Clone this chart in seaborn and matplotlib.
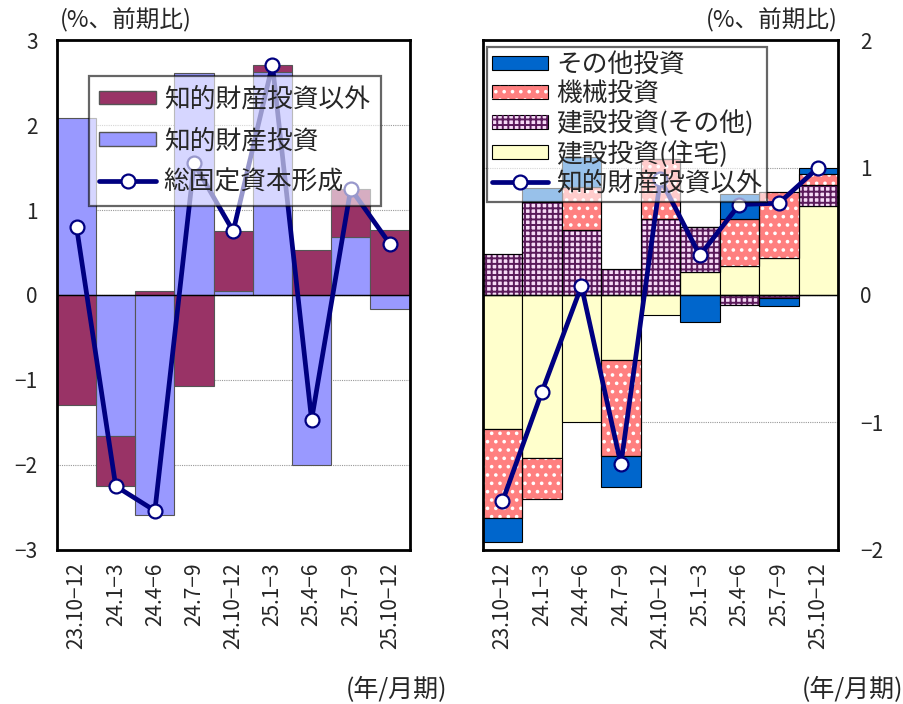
import numpy as np
import seaborn as sns
import matplotlib
matplotlib.use("Agg")
import matplotlib.pyplot as plt
from matplotlib.patches import Patch
from matplotlib.lines import Line2D
from matplotlib.legend_handler import HandlerTuple

# 期（年/月期）
quarters = ["23.10−12", "24.1−3", "24.4−6", "24.7−9", "24.10−12",
            "25.1−3", "25.4−6", "25.7−9", "25.10−12"]

# 左図：総固定資本形成（%、前期比）と寄与
ip_invest = [2.08, -1.66, -2.59, 2.61, 0.05, 2.62, -2.00, 0.68, -0.16]
non_ip_invest = [-1.29, -0.59, 0.05, -1.07, 0.70, 0.09, 0.53, 0.57, 0.77]
gfcf = [0.80, -2.25, -2.54, 1.55, 0.75, 2.71, -1.47, 1.25, 0.60]

# 右図：知的財産投資以外の内訳
housing = [-1.05, -1.28, -1.00, -0.51, -0.16, 0.18, 0.23, 0.29, 0.70]
constr_other = [0.32, 0.73, 0.51, 0.20, 0.60, 0.35, -0.08, -0.02, 0.16]
machinery = [-0.70, -0.32, 0.34, -0.75, 0.47, 0.00, 0.37, 0.52, 0.09]
other_invest = [-0.19, 0.11, 0.23, -0.25, 0.00, -0.21, 0.19, -0.07, 0.05]
non_ip_line = [-1.62, -0.76, 0.07, -1.33, 0.91, 0.31, 0.71, 0.72, 1.00]

MAROON = "#993366"
PERI = "#9999FF"
NAVY = "#000080"
BLUE = "#0066CC"
SALMON = "#FF8080"
CHECK_BG = "#F6DAF6"
CHECK_FG = "#5A1A5A"
CREAM = "#FFFFCC"

sns.set_theme(style="white")
plt.rcParams["font.family"] = ["Noto Sans CJK JP", "DejaVu Sans"]
plt.rcParams["patch.force_edgecolor"] = False
plt.rcParams["hatch.linewidth"] = 1.4

x = np.arange(len(quarters))


def stack_bottoms(series_list):
    pos = np.zeros(len(x))
    neg = np.zeros(len(x))
    out = []
    for s in series_list:
        s = np.asarray(s, dtype=float)
        out.append(np.where(s >= 0, pos, neg))
        pos = pos + np.clip(s, 0, None)
        neg = neg + np.clip(s, None, 0)
    return out


def draw_bars(ax, values, bottom, color, edge, hatch=None, hcolor="white"):
    sns.barplot(x=x, y=values, ax=ax, native_scale=True, width=1.0,
                color=color, saturation=1, edgecolor=edge, linewidth=0.8,
                bottom=bottom, errorbar=None, zorder=2)
    if hatch:
        ax.bar(x, values, width=1.0, bottom=bottom, facecolor="none",
               edgecolor=hcolor, linewidth=0, hatch=hatch, zorder=2.1)
        ax.bar(x, values, width=1.0, bottom=bottom, facecolor="none",
               edgecolor=edge, linewidth=0.8, zorder=2.2)


def draw_line(ax, values):
    sns.lineplot(x=x, y=values, ax=ax, color=NAVY, lw=3.4, marker="o",
                 markersize=10, markerfacecolor="white",
                 markeredgecolor=NAVY, markeredgewidth=1.6, zorder=4)


def style_axis(ax, lo, hi):
    ax.set_xlim(-0.5, len(x) - 0.5)
    ax.set_ylim(lo, hi)
    ax.set_yticks(range(lo, hi + 1))
    ax.set_xticks(x)
    ax.set_xticklabels(quarters, rotation=90)
    ax.tick_params(axis="x", length=0, pad=9, labelsize=15)
    ax.tick_params(axis="y", length=0, pad=14, labelsize=15)
    ax.grid(axis="y", ls=(0, (1, 1)), color="#999999", lw=0.8)
    ax.set_axisbelow(True)
    ax.axhline(0, color="black", lw=1.0, zorder=3)
    for sp in ax.spines.values():
        sp.set_color("black")
        sp.set_linewidth(2)
    ax.set_xlabel("")
    ax.set_ylabel("")


fig = plt.figure(figsize=(9.04, 7.04), dpi=100)
ax1 = fig.add_axes([0.063, 0.219, 0.390, 0.724])
ax2 = fig.add_axes([0.534, 0.219, 0.393, 0.724])

# 左図
b1 = stack_bottoms([ip_invest, non_ip_invest])
draw_bars(ax1, ip_invest, b1[0], PERI, "#555555")
draw_bars(ax1, non_ip_invest, b1[1], MAROON, "#555555")
draw_line(ax1, gfcf)
style_axis(ax1, -3, 3)

h_left = [Patch(facecolor=MAROON, edgecolor="#555555"),
          Patch(facecolor=PERI, edgecolor="#555555"),
          Line2D([], [], color=NAVY, lw=3.4, marker="o", ms=10,
                 mfc="white", mec=NAVY, mew=1.6)]
leg1 = ax1.legend(h_left, ["知的財産投資以外", "知的財産投資", "総固定資本形成"],
                  loc="upper left", bbox_to_anchor=(0.09, 0.93),
                  borderaxespad=0, fontsize=18.5, framealpha=0.6,
                  edgecolor="black", fancybox=False, handlelength=2.2,
                  handleheight=0.45, handletextpad=0.3, labelspacing=0.6,
                  borderpad=0.42)
leg1.get_frame().set_linewidth(1.6)

# 右図
b2 = stack_bottoms([housing, constr_other, machinery, other_invest])
draw_bars(ax2, housing, b2[0], CREAM, "black")
draw_bars(ax2, constr_other, b2[1], CHECK_BG, "black", hatch="+++", hcolor=CHECK_FG)
draw_bars(ax2, machinery, b2[2], SALMON, "black", hatch="..")
draw_bars(ax2, other_invest, b2[3], BLUE, "black")
draw_line(ax2, non_ip_line)
style_axis(ax2, -2, 2)
ax2.yaxis.tick_right()
ax2.tick_params(axis="y", length=0, pad=16, labelsize=15)


def hatched(color, hatch, hcolor):
    return (Patch(facecolor=color, edgecolor="black", linewidth=0.8),
            Patch(facecolor="none", edgecolor=hcolor, linewidth=0, hatch=hatch))


h_right = [Patch(facecolor=BLUE, edgecolor="black", linewidth=0.8),
           hatched(SALMON, "..", "white"),
           hatched(CHECK_BG, "+++", CHECK_FG),
           Patch(facecolor=CREAM, edgecolor="black", linewidth=0.8),
           Line2D([], [], color=NAVY, lw=3.4, marker="o", ms=10,
                  mfc="white", mec=NAVY, mew=1.6)]
leg2 = ax2.legend(h_right, ["その他投資", "機械投資", "建設投資(その他)",
                            "建設投資(住宅)", "知的財産投資以外"],
                  handler_map={tuple: HandlerTuple(ndivide=1)},
                  loc="upper left", bbox_to_anchor=(0.011, 0.986),
                  borderaxespad=0, fontsize=18.5, framealpha=0.6,
                  edgecolor="black", fancybox=False, handlelength=2.2,
                  handleheight=0.45, handletextpad=0.3, labelspacing=0.12,
                  borderpad=0.2)
leg2.get_frame().set_linewidth(1.6)

# 単位・期の注記
fig.text(60 / 904, 1 - 20 / 704, "(%、前期比)", fontsize=17, ha="left", va="center")
fig.text(838 / 904, 1 - 20 / 704, "(%、前期比)", fontsize=17, ha="right", va="center")
fig.text(447 / 904, 1 - 690 / 704, "(年/月期)", fontsize=18, ha="right", va="center")
fig.text(903 / 904, 1 - 690 / 704, "(年/月期)", fontsize=18, ha="right", va="center")

fig.savefig("out.png", dpi=100)
